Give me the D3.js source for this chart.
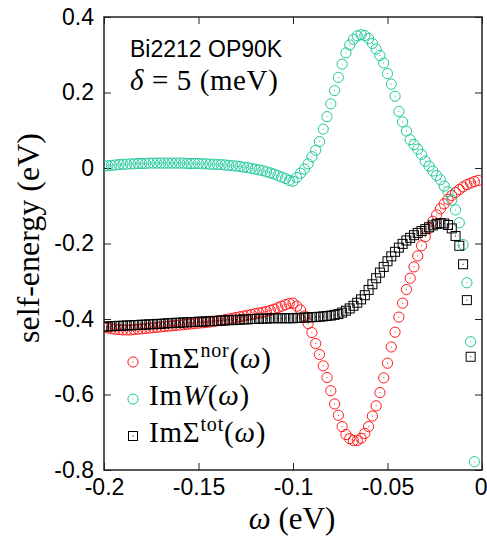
<!DOCTYPE html>
<html><head><meta charset="utf-8">
<script src="https://cdn.jsdelivr.net/npm/d3@7"></script>
<style>
html,body{margin:0;padding:0;background:#fff;}
svg{display:block;}
</style>
</head><body>
<svg id="chart" width="487" height="545"></svg>
<script>
// omega grid (eV): -0.200 ... -0.002, step 0.002
const omega = [-0.200,-0.198,-0.196,-0.194,-0.192,-0.190,-0.188,-0.186,-0.184,-0.182,
 -0.180,-0.178,-0.176,-0.174,-0.172,-0.170,-0.168,-0.166,-0.164,-0.162,
 -0.160,-0.158,-0.156,-0.154,-0.152,-0.150,-0.148,-0.146,-0.144,-0.142,
 -0.140,-0.138,-0.136,-0.134,-0.132,-0.130,-0.128,-0.126,-0.124,-0.122,
 -0.120,-0.118,-0.116,-0.114,-0.112,-0.110,-0.108,-0.106,-0.104,-0.102,
 -0.100,-0.098,-0.096,-0.094,-0.092,-0.090,-0.088,-0.086,-0.084,-0.082,
 -0.080,-0.078,-0.076,-0.074,-0.072,-0.070,-0.068,-0.066,-0.064,-0.062,
 -0.060,-0.058,-0.056,-0.054,-0.052,-0.050,-0.048,-0.046,-0.044,-0.042,
 -0.040,-0.038,-0.036,-0.034,-0.032,-0.030,-0.028,-0.026,-0.024,-0.022,
 -0.020,-0.018,-0.016,-0.014,-0.012,-0.010,-0.008,-0.006,-0.004,-0.002];

// Im Sigma^nor (red circles)
const imSigmaNor = [-0.422,-0.424,-0.426,-0.427,-0.428,-0.429,-0.429,-0.429,-0.428,-0.427,
 -0.426,-0.425,-0.424,-0.423,-0.422,-0.421,-0.420,-0.419,-0.418,-0.417,
 -0.416,-0.415,-0.414,-0.413,-0.412,-0.411,-0.410,-0.409,-0.408,-0.407,
 -0.405,-0.404,-0.402,-0.400,-0.398,-0.396,-0.394,-0.392,-0.390,-0.388,
 -0.386,-0.384,-0.382,-0.380,-0.377,-0.374,-0.370,-0.366,-0.362,-0.359,
 -0.358,-0.366,-0.376,-0.392,-0.412,-0.436,-0.465,-0.494,-0.524,-0.555,
 -0.590,-0.625,-0.655,-0.685,-0.706,-0.717,-0.722,-0.722,-0.716,-0.703,
 -0.685,-0.657,-0.630,-0.595,-0.556,-0.517,-0.474,-0.435,-0.395,-0.358,
 -0.322,-0.292,-0.262,-0.233,-0.206,-0.182,-0.160,-0.141,-0.124,-0.108,
 -0.095,-0.083,-0.073,-0.065,-0.057,-0.050,-0.044,-0.040,-0.036,-0.033];

// Im W (teal circles); null = off the chart
const imW = [0.005,0.006,0.007,0.008,0.009,0.010,0.010,0.011,0.011,0.012,
 0.012,0.012,0.013,0.013,0.013,0.013,0.013,0.013,0.013,0.013,
 0.013,0.013,0.012,0.012,0.012,0.012,0.011,0.011,0.010,0.010,
 0.009,0.009,0.008,0.007,0.006,0.005,0.004,0.002,0.001,-0.001,
 -0.003,-0.005,-0.007,-0.010,-0.013,-0.016,-0.020,-0.024,-0.028,-0.033,
 -0.035,-0.025,-0.014,-0.003,0.011,0.030,0.047,0.070,0.103,0.136,
 0.170,0.205,0.240,0.275,0.305,0.326,0.341,0.350,0.353,0.351,
 0.343,0.330,0.315,0.298,0.278,0.250,0.222,0.190,0.150,0.122,
 0.098,0.075,0.062,0.050,0.036,0.018,0.005,-0.008,-0.020,-0.031,
 -0.048,-0.063,-0.085,-0.111,-0.145,-0.203,-0.304,-0.460,-0.778,null];

// Im Sigma^tot (black squares)
const imSigmaTot = [-0.420,-0.420,-0.419,-0.419,-0.418,-0.418,-0.417,-0.417,-0.416,-0.416,
 -0.415,-0.415,-0.414,-0.414,-0.413,-0.413,-0.412,-0.411,-0.411,-0.410,
 -0.410,-0.409,-0.409,-0.408,-0.408,-0.407,-0.407,-0.406,-0.406,-0.405,
 -0.405,-0.404,-0.404,-0.403,-0.403,-0.402,-0.402,-0.401,-0.401,-0.400,
 -0.400,-0.399,-0.399,-0.399,-0.398,-0.398,-0.398,-0.398,-0.398,-0.398,
 -0.398,-0.397,-0.397,-0.396,-0.396,-0.395,-0.395,-0.394,-0.393,-0.392,
 -0.391,-0.389,-0.387,-0.383,-0.378,-0.372,-0.365,-0.357,-0.348,-0.337,
 -0.323,-0.308,-0.292,-0.277,-0.262,-0.247,-0.234,-0.222,-0.211,-0.201,
 -0.192,-0.185,-0.178,-0.172,-0.167,-0.162,-0.157,-0.152,-0.148,-0.146,
 -0.147,-0.151,-0.160,-0.180,-0.206,-0.255,-0.350,-0.500,null,null];

const xTicks = [-0.2,-0.15,-0.1,-0.05,0];
const xTickLabels = ["-0.2","-0.15","-0.1","-0.05","0"];
const yTicks = [-0.8,-0.6,-0.4,-0.2,0,0.2,0.4];
const yTickLabels = ["-0.8","-0.6","-0.4","-0.2","0","0.2","0.4"];

const RED = "#ff1a1a", TEAL = "#1ec99b", BLACK = "#000";

const svg = d3.select("#chart");
const L = 104, R = 482, T = 17, B = 470;
const x = d3.scaleLinear().domain([-0.2, 0]).range([L, R]);
const y = d3.scaleLinear().domain([-0.8, 0.4]).range([B, T]);

svg.append("defs").append("clipPath").attr("id","clip")
  .append("rect").attr("x",L).attr("y",T).attr("width",R-L).attr("height",B-T);

const sans = "'Liberation Sans', Arial, Helvetica, sans-serif";
const serif = "'Liberation Serif', 'Times New Roman', serif";

// axes with inward ticks on all four sides
const tickLen = 7;
const axB = svg.append("g").attr("transform",`translate(0,${B})`)
  .call(d3.axisBottom(x).tickValues(xTicks).tickSize(-tickLen).tickPadding(10)
    .tickFormat((d,i)=>xTickLabels[i]));
const axT = svg.append("g").attr("transform",`translate(0,${T})`)
  .call(d3.axisTop(x).tickValues(xTicks).tickSize(-tickLen).tickFormat(""));
const axL = svg.append("g").attr("transform",`translate(${L},0)`)
  .call(d3.axisLeft(y).tickValues(yTicks).tickSize(-tickLen).tickPadding(10)
    .tickFormat((d,i)=>yTickLabels[i]));
const axR = svg.append("g").attr("transform",`translate(${R},0)`)
  .call(d3.axisRight(y).tickValues(yTicks).tickSize(-tickLen).tickFormat(""));
[axB,axT,axL,axR].forEach(g=>{
  g.select(".domain").remove();
  g.selectAll(".tick line").attr("stroke","#222").attr("stroke-width",1);
  g.selectAll(".tick text").attr("font-family",sans).attr("font-size",23).attr("fill","#000");
});
axB.selectAll(".tick text").attr("dy","0").attr("y",25);
axB.selectAll(".tick text").filter((d)=>d===0).attr("text-anchor","end").attr("dx",5);
axL.selectAll(".tick text").attr("x",-10);

svg.append("rect").attr("x",L).attr("y",T).attr("width",R-L).attr("height",B-T)
  .attr("fill","none").attr("stroke","#222").attr("stroke-width",1.5);

// data layers
const plot = svg.append("g").attr("clip-path","url(#clip)");
const RAD = 5.1, SQ = 9;
function circles(vals, color){
  const pts = omega.map((w,i)=>({w, v: vals[i]})).filter(d=>d.v!==null);
  const g = plot.append("g");
  g.selectAll("circle").data(pts).join("circle")
    .attr("cx",d=>x(d.w)).attr("cy",d=>y(d.v)).attr("r",RAD)
    .attr("fill","none").attr("stroke",color).attr("stroke-width",1);
  g.selectAll("rect").data(pts).join("rect")
    .attr("x",d=>x(d.w)-0.5).attr("y",d=>y(d.v)-0.5).attr("width",1).attr("height",1)
    .attr("fill",color);
}
function squares(vals, color){
  const pts = omega.map((w,i)=>({w, v: vals[i]})).filter(d=>d.v!==null);
  const g = plot.append("g");
  g.selectAll("rect.sq").data(pts).join("rect").attr("class","sq")
    .attr("x",d=>x(d.w)-SQ/2).attr("y",d=>y(d.v)-SQ/2).attr("width",SQ).attr("height",SQ)
    .attr("fill","none").attr("stroke",color).attr("stroke-width",1);
  g.selectAll("rect.dot").data(pts).join("rect").attr("class","dot")
    .attr("x",d=>x(d.w)-0.5).attr("y",d=>y(d.v)-0.5).attr("width",1).attr("height",1)
    .attr("fill",color);
}
circles(imSigmaNor, RED);
circles(imW, TEAL);
squares(imSigmaTot, BLACK);

// annotations
svg.append("text").attr("x",130).attr("y",57).attr("font-family",sans).attr("font-size",23)
  .text("Bi2212 OP90K");
const t2 = svg.append("text").attr("x",130).attr("y",90).attr("font-family",serif)
  .attr("font-size",29).attr("letter-spacing",0.6);
t2.append("tspan").attr("font-style","italic").text("δ");
t2.append("tspan").text(" = 5 (meV)").attr("xml:space","preserve");

// legend
const legendLabels = [
  {main:"ImΣ", sup:"nor"},
  {main:"Im", it:"W"},
  {main:"ImΣ", sup:"tot"}
];
const legendSym = ["circle","circle","square"];
const legendColor = [RED, TEAL, BLACK];
const legY = [368, 405, 442];
legendLabels.forEach((d,i)=>{
  const cy = legY[i]-6, cx = 133;
  if(legendSym[i]==="circle"){
    svg.append("circle").attr("cx",cx).attr("cy",cy).attr("r",RAD).attr("fill","none")
      .attr("stroke",legendColor[i]).attr("stroke-width",1);
  } else {
    svg.append("rect").attr("x",cx-SQ/2).attr("y",cy-SQ/2).attr("width",SQ).attr("height",SQ)
      .attr("fill","none").attr("stroke",legendColor[i]).attr("stroke-width",1);
  }
  svg.append("rect").attr("x",cx-0.5).attr("y",cy-0.5).attr("width",1).attr("height",1).attr("fill",legendColor[i]);
  const t = svg.append("text").attr("x",149).attr("y",legY[i]).attr("font-family",serif)
    .attr("font-size",29).attr("letter-spacing",0.8);
  t.append("tspan").text(d.main);
  if(d.it) t.append("tspan").attr("font-style","italic").text(d.it);
  if(d.sup){
    t.append("tspan").attr("font-size",20).attr("dy",-11).text(d.sup);
    t.append("tspan").attr("dy",11).text("(");
  } else {
    t.append("tspan").text("(");
  }
  t.append("tspan").attr("font-style","italic").text("ω");
  t.append("tspan").text(")");
});

// axis titles
svg.append("text").attr("transform","translate(39,238) rotate(-90)").attr("text-anchor","middle")
  .attr("font-family",serif).attr("font-size",32).text("self-energy (eV)");
const xt = svg.append("text").attr("x",292).attr("y",529).attr("text-anchor","middle")
  .attr("font-family",serif).attr("font-size",31);
xt.append("tspan").attr("font-style","italic").text("ω");
xt.append("tspan").text(" (eV)");
</script>
</body></html>
